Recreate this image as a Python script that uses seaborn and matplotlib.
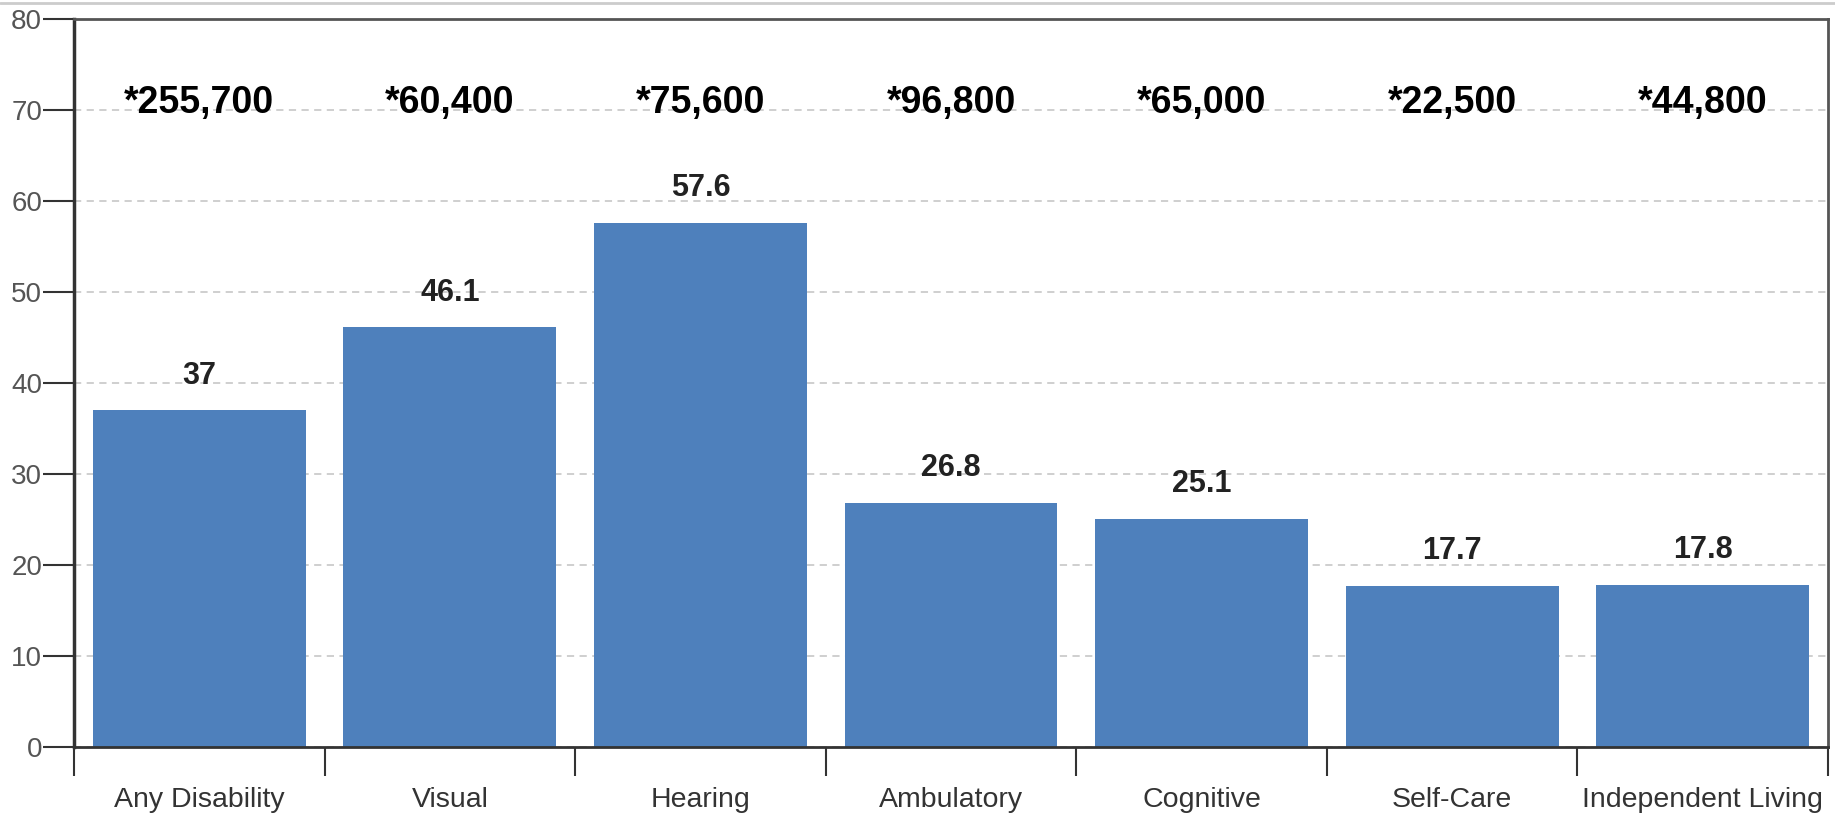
import matplotlib
matplotlib.use("Agg")
import matplotlib.pyplot as plt
from matplotlib.lines import Line2D
import seaborn as sns
import pandas as pd

categories = ["Any Disability", "Visual", "Hearing", "Ambulatory", "Cognitive", "Self-Care", "Independent Living"]
values = [37, 46.1, 57.6, 26.8, 25.1, 17.7, 17.8]
value_labels = ["37", "46.1", "57.6", "26.8", "25.1", "17.7", "17.8"]
counts = ["*255,700", "*60,400", "*75,600", "*96,800", "*65,000", "*22,500", "*44,800"]
y_ticks = [0, 10, 20, 30, 40, 50, 60, 70, 80]

sns.set_theme(style="white")
plt.rcParams["font.family"] = ["Liberation Sans", "DejaVu Sans"]

df = pd.DataFrame({"category": categories, "value": values})

fig = plt.figure(figsize=(18.35, 8.14), dpi=100)
ax = fig.add_axes([74 / 1835, 1 - 747 / 814, (1828 - 74) / 1835, (747 - 19) / 814])

sns.barplot(data=df, x="category", y="value", color="#4E80BC", saturation=1,
            width=0.85, ax=ax, edgecolor="none")

ax.set_xlim(-0.5, len(categories) - 0.5)
ax.set_ylim(0, 80)
ax.set_yticks(y_ticks)
ax.set_xlabel("")
ax.set_ylabel("")

ax.set_axisbelow(True)
ax.yaxis.grid(True, linestyle=(0, (4, 3)), color="#cccccc", linewidth=1.3)
ax.xaxis.grid(False)

# ticks
ax.tick_params(axis="y", which="major", left=True, length=22, width=1.5, color="#333333",
               labelsize=20, labelcolor="#555555", pad=1)
ax.set_xticks([i - 0.5 for i in range(len(categories) + 1)], minor=True)
ax.tick_params(axis="x", which="minor", bottom=True, length=21, width=1.5, color="#333333")
ax.tick_params(axis="x", which="major", bottom=False, length=0, labelsize=20.5,
               labelcolor="#333333", pad=29)

for side, lw, col in [("left", 2.5, "#333333"), ("bottom", 2.0, "#333333"),
                      ("top", 2.0, "#555555"), ("right", 2.0, "#555555")]:
    ax.spines[side].set_visible(True)
    ax.spines[side].set_linewidth(lw)
    ax.spines[side].set_color(col)

# value labels above bars
for i, (v, lab) in enumerate(zip(values, value_labels)):
    ax.annotate(lab, xy=(i, v), xytext=(0, 25), textcoords="offset points",
                ha="center", va="center", fontsize=22, fontweight="bold", color="#222222")

# counts row
for i, c in enumerate(counts):
    ax.text(i, 70.8, c, ha="center", va="center", fontsize=27, fontweight="bold",
            color="#000000")

fig.add_artist(Line2D([0, 1], [1 - 3 / 814, 1 - 3 / 814], transform=fig.transFigure,
                      color="#cccccc", linewidth=2))

fig.savefig("out.png", dpi=100)
